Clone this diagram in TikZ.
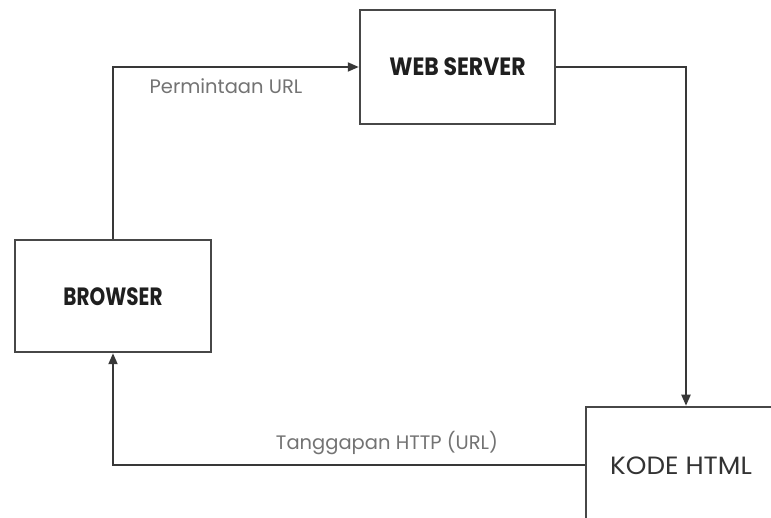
\documentclass[tikz,border=0pt]{standalone}
\usepackage{fontspec}
\setmainfont{Poppins}
\usetikzlibrary{arrows.meta}
\begin{document}
\begin{tikzpicture}[x=1pt,y=-1pt,
  box/.style={draw=black!72, line width=2.5pt, fill=white, inner sep=0pt},
  conn/.style={draw=black!78, line width=2pt, -{Triangle[length=11pt,width=9pt]}},
  lbl/.style={text=black!55, font=\fontsize{19.5}{19.5}\selectfont, inner sep=0pt},
  ttl/.style={font=\bfseries\fontsize{25}{25}\selectfont, text=black!88, inner sep=0pt},
  plain/.style={font=\fontsize{25}{25}\selectfont, text=black!80, inner sep=0pt}]
\useasboundingbox (0,0) rectangle (771,518);
\fill[white] (0,0) rectangle (771,518);
\clip (0,0) rectangle (771,518);
\node[box, minimum width=195pt, minimum height=114pt] (web) at (457.5,67) {};
\node[ttl] (webtxt) at (457.5,67) {\scalebox{0.88}[1]{WEB SERVER}};
\node[box, minimum width=196pt, minimum height=112pt] (browser) at (113,296) {};
\node[ttl] (browsertxt) at (113,297) {\scalebox{0.8}[1]{BROWSER}};
\node[box, minimum width=208pt, minimum height=126pt] (kode) at (690,470) {};
\node[plain] (kodetxt) at (681,466) {\scalebox{1.05}[1]{KODE HTML}};
\draw[conn] (browser.north) |- (web.west);
\draw[conn] (web.east) -| ([xshift=-4pt]kode.north);
\draw[conn] ([yshift=5pt]kode.west) -| (browser.south);
\node[lbl] (l1) at (226,86) {Permintaan URL};
\node[lbl] (l2) at (387,443) {Tanggapan HTTP (URL)};
\end{tikzpicture}
\end{document}
